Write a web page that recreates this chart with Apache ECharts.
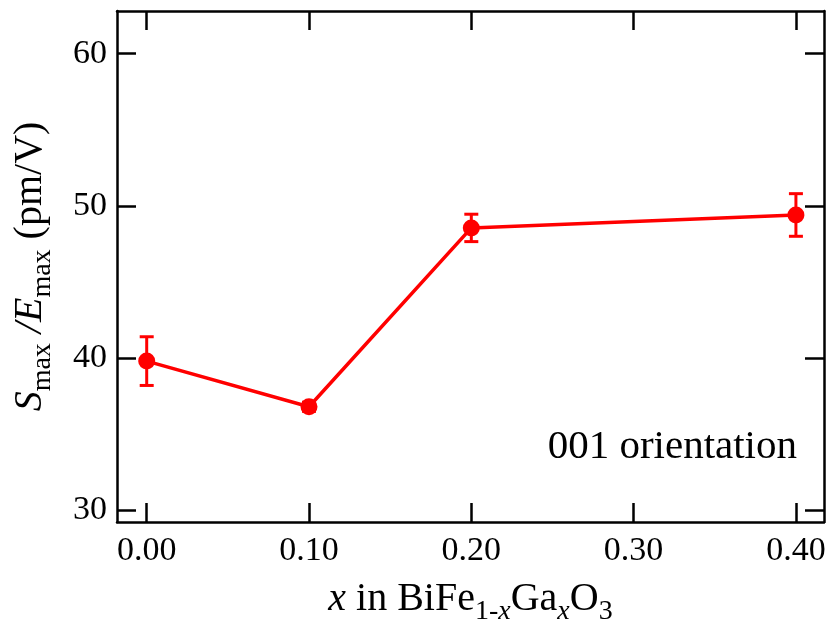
<!DOCTYPE html>
<html><head><meta charset="utf-8">
<script src="https://cdn.jsdelivr.net/npm/echarts@6/dist/echarts.min.js"></script>
<style>html,body{margin:0;padding:0;background:#fff}#c{width:831px;height:628px}</style>
</head><body><div id="c"></div>
<script>
const xValues = [0.00, 0.10, 0.20, 0.40];
const yValues = [39.8, 36.8, 48.55, 49.4];
const yErrors = [1.6, 0.3, 0.9, 1.4];
const xTicks = [0.00, 0.10, 0.20, 0.30, 0.40];
const yTicks = [30, 40, 50, 60];
const annotation = '001 orientation';

const font = 'Liberation Serif';
const chart = echarts.init(document.getElementById('c'));
const axisLine = {show: true, onZero: false, lineStyle: {color: '#000', width: 2.5}};
const tick = (vals) => ({show: true, inside: true, length: 19, customValues: vals, lineStyle: {color: '#000', width: 2.5}});
const pts = xValues.map((x, i) => [x, yValues[i]]);
const errData = xValues.map((x, i) => [x, yValues[i] - yErrors[i], yValues[i] + yErrors[i]]);
const rich = {
  n: {fontFamily: font, fontSize: 40, lineHeight: 40, color: '#000'},
  i: {fontFamily: font, fontSize: 40, lineHeight: 40, fontStyle: 'italic', color: '#000'},
  s: {fontFamily: font, fontSize: 28, lineHeight: 28, color: '#000', padding: [25, 0, 0, 0]},
  si: {fontFamily: font, fontSize: 28, lineHeight: 28, fontStyle: 'italic', color: '#000', padding: [25, 0, 0, 0]}
};

chart.setOption({
  animation: false,
  grid: {left: 117, right: 7, top: 11, bottom: 106, containLabel: false, outerBoundsMode: 'none'},
  xAxis: [{
    type: 'value', min: -0.0183, max: 0.4173,
    axisLine, splitLine: {show: false},
    axisTick: tick(xTicks),
    axisLabel: {customValues: xTicks, formatter: v => v.toFixed(2), fontFamily: font, fontSize: 34, color: '#000', margin: 12},
    name: '{i|x}{n| in BiFe}{s|1-}{si|x}{n|Ga}{si|x}{n|O}{s|3}',
    nameLocation: 'middle', nameGap: 43,
    nameTextStyle: {fontFamily: font, fontSize: 40, color: '#000', rich}
  }, {
    type: 'value', position: 'top', min: -0.0183, max: 0.4173,
    axisLine, splitLine: {show: false}, axisTick: tick(xTicks), axisLabel: {show: false}
  }],
  yAxis: [{
    type: 'value', min: 29.23, max: 62.8,
    axisLine, splitLine: {show: false},
    axisTick: tick(yTicks),
    axisLabel: {customValues: yTicks, fontFamily: font, fontSize: 34, color: '#000', margin: 10},
    name: '{i|S}{s|max}{n| }{i|/E}{s|max}{n| (pm/V)}',
    nameLocation: 'middle', nameGap: 67, nameRotate: 90,
    nameTextStyle: {fontFamily: font, fontSize: 40, color: '#000', rich}
  }, {
    type: 'value', position: 'right', min: 29.23, max: 62.8,
    axisLine, splitLine: {show: false}, axisTick: tick(yTicks), axisLabel: {show: false}
  }],
  series: [{
    type: 'line', data: pts, symbol: 'circle', symbolSize: 17,
    itemStyle: {color: '#ff0000'}, lineStyle: {color: '#ff0000', width: 3.5}, z: 3
  }, {
    type: 'custom', data: errData, z: 4,
    renderItem: (params, api) => {
      const lo = api.coord([api.value(0), api.value(1)]);
      const hi = api.coord([api.value(0), api.value(2)]);
      const w = 7;
      const st = {stroke: '#ff0000', lineWidth: 3};
      return {type: 'group', children: [
        {type: 'line', shape: {x1: lo[0], y1: lo[1], x2: hi[0], y2: hi[1]}, style: st},
        {type: 'line', shape: {x1: lo[0]-w, y1: lo[1], x2: lo[0]+w, y2: lo[1]}, style: st},
        {type: 'line', shape: {x1: hi[0]-w, y1: hi[1], x2: hi[0]+w, y2: hi[1]}, style: st}
      ]};
    }
  }],
  graphic: [{
    type: 'text', x: 797, y: 447,
    style: {text: annotation, fontFamily: font, fontSize: 41, fill: '#000', align: 'right', verticalAlign: 'middle'}
  }]
});
</script></body></html>
